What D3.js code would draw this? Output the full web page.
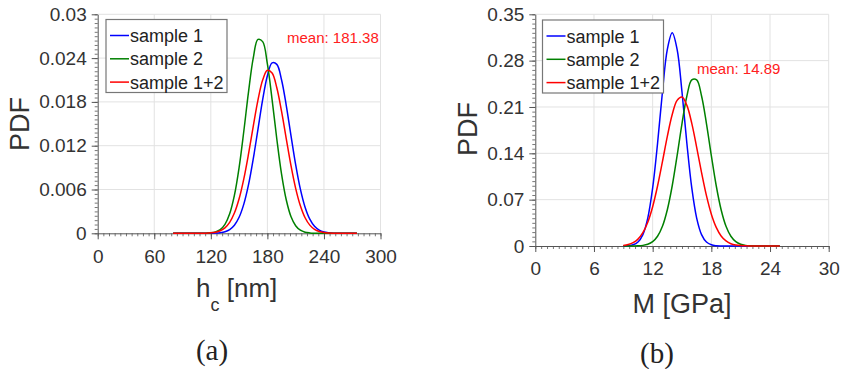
<!DOCTYPE html>
<html>
<head>
<meta charset="utf-8">
<script src="https://cdn.jsdelivr.net/npm/d3@7"></script>
<style>
  body { margin: 0; background: #fff; }
  svg { display: block; font-family: "Liberation Sans", Arial, sans-serif; }
</style>
</head>
<body>
<div id="chart"></div>
<script>
// panel (a): contact depth h_c [nm]
const hcX = [80, 85, 90, 95, 100, 105, 110, 115, 120, 125, 130, 135, 140, 145, 150, 155, 160, 165, 170, 175,
             180, 185, 190, 195, 200, 205, 210, 215, 220, 225, 230, 235, 240, 245, 250, 255, 260, 265, 270, 275];
const hcSample1 = [0, 0, 0, 0, 0, 0, 0, 0, 0.00001, 0.00003, 0.00009, 0.00022, 0.00051, 0.00111, 0.00220, 0.00400, 0.00666, 0.01018, 0.01425, 0.01832,
                   0.02159, 0.02334, 0.02314, 0.02104, 0.01754, 0.01342, 0.00941, 0.00605, 0.00357, 0.00193, 0.00096, 0.00044, 0.00018, 0.00007, 0.00002, 0.00001, 0, 0, 0, 0];
const hcSample2 = [0, 0, 0, 0, 0, 0, 0, 0.00002, 0.00006, 0.00019, 0.00050, 0.00123, 0.00267, 0.00519, 0.00901, 0.01398, 0.01938, 0.02400, 0.02656, 0.02626,
                   0.02320, 0.01832, 0.01292, 0.00814, 0.00459, 0.00230, 0.00104, 0.00042, 0.00015, 0.00005, 0.00001, 0, 0, 0, 0, 0, 0, 0, 0, 0];
const hcSample12 = [0, 0, 0, 0, 0, 0, 0.00001, 0.00002, 0.00006, 0.00015, 0.00035, 0.00075, 0.00150, 0.00277, 0.00473, 0.00746, 0.01087, 0.01465, 0.01824, 0.02100,
                    0.02233, 0.02195, 0.01993, 0.01673, 0.01298, 0.00930, 0.00616, 0.00377, 0.00213, 0.00112, 0.00054, 0.00024, 0.00010, 0.00004, 0.00001, 0, 0, 0, 0, 0];
const hcXTicks = [0, 60, 120, 180, 240, 300];
const hcYTicks = [0, 0.006, 0.012, 0.018, 0.024, 0.03];
const hcYLabels = ["0", "0.006", "0.012", "0.018", "0.024", "0.03"];
const hcMean = "mean: 181.38";

// panel (b): modulus M [GPa]
const mX = [9, 9.5, 10, 10.5, 11, 11.5, 12, 12.5, 13, 13.5, 14, 14.5, 15, 15.5, 16, 16.5, 17,
            17.5, 18, 18.5, 19, 19.5, 20, 20.5, 21, 21.5, 22, 22.5, 23, 23.5, 24, 24.5, 25];
const mSample1 = [0.0001, 0.00044, 0.00177, 0.0060, 0.01725, 0.0422, 0.0877, 0.1549, 0.2326, 0.2969, 0.3220, 0.2969, 0.2326, 0.1549, 0.0877, 0.0422, 0.01725,
                  0.0060, 0.00177, 0.00044, 0.0001, 0, 0, 0, 0, 0, 0, 0, 0, 0, 0, 0, 0];
const mSample2 = [0, 0, 0.0001, 0.00031, 0.00095, 0.00262, 0.0065, 0.01466, 0.0298, 0.0548, 0.0910, 0.1365, 0.1850, 0.2266, 0.2508, 0.2508, 0.2266,
                  0.1850, 0.1365, 0.0910, 0.0548, 0.0298, 0.01466, 0.0065, 0.00262, 0.00095, 0.00031, 0.0001, 0, 0, 0, 0, 0];
const mSample12 = [0.00089, 0.00218, 0.00496, 0.0104, 0.0201, 0.0360, 0.0594, 0.0906, 0.1274, 0.1656, 0.1986, 0.2200, 0.2250, 0.2124, 0.1852, 0.1490, 0.1108,
                   0.0760, 0.0481, 0.0282, 0.0152, 0.0076, 0.0035, 0.0015, 0.00058, 0.00021, 0.00007, 0.00002, 0, 0, 0, 0, 0];
const mXTicks = [0, 6, 12, 18, 24, 30];
const mYTicks = [0, 0.07, 0.14, 0.21, 0.28, 0.35];
const mYLabels = ["0", "0.07", "0.14", "0.21", "0.28", "0.35"];
const mMean = "mean: 14.89";

const seriesNames = ["sample 1", "sample 2", "sample 1+2"];
const seriesColors = ["#0000ff", "#008000", "#ff0000"];

const svg = d3.select("#chart").append("svg")
    .attr("width", 844)
    .attr("height", 369);

function drawPanel(p) {
    const x = d3.scaleLinear().domain([p.xTicks[0], p.xTicks[p.xTicks.length - 1]]).range([p.left, p.right]);
    const y = d3.scaleLinear().domain([p.yTicks[0], p.yTicks[p.yTicks.length - 1]]).range([p.bottom, p.top]);
    const g = svg.append("g");

    // grid
    g.append("g").selectAll("line").data(p.yTicks.slice(1)).join("line")
        .attr("x1", p.left).attr("x2", p.right)
        .attr("y1", d => y(d)).attr("y2", d => y(d))
        .attr("stroke", "#e2e2e2").attr("stroke-width", 1);
    g.append("g").selectAll("line").data(p.xTicks.slice(1)).join("line")
        .attr("x1", d => x(d)).attr("x2", d => x(d))
        .attr("y1", p.top).attr("y2", p.bottom)
        .attr("stroke", "#e2e2e2").attr("stroke-width", 1);

    // minor ticks
    const xMinor = d3.range(0, 51).map(i => x.domain()[0] + i * (x.domain()[1] - x.domain()[0]) / 50);
    const yMinor = d3.range(0, 51).map(i => i * y.domain()[1] / 50);
    g.append("g").attr("transform", `translate(0,${p.bottom})`)
        .call(d3.axisBottom(x).tickValues(xMinor).tickSize(3).tickSizeOuter(0).tickFormat(""))
        .call(a => a.select(".domain").remove())
        .call(a => a.selectAll("line").attr("stroke", "#777"));
    g.append("g").attr("transform", `translate(${p.left},0)`)
        .call(d3.axisLeft(y).tickValues(yMinor).tickSize(3).tickSizeOuter(0).tickFormat(""))
        .call(a => a.select(".domain").remove())
        .call(a => a.selectAll("line").attr("stroke", "#777"));

    // major axes
    g.append("g").attr("transform", `translate(0,${p.bottom})`)
        .call(d3.axisBottom(x).tickValues(p.xTicks).tickSize(6).tickSizeOuter(0).tickPadding(10))
        .call(a => a.select(".domain").attr("stroke", "#555"))
        .call(a => a.selectAll("line").attr("stroke", "#555"))
        .call(a => a.selectAll("text").attr("font-size", 19).attr("fill", "#333")
            .attr("font-family", "'Liberation Sans', Arial, sans-serif"));
    g.append("g").attr("transform", `translate(${p.left},0)`)
        .call(d3.axisLeft(y).tickValues(p.yTicks).tickSize(6).tickSizeOuter(0).tickPadding(5)
            .tickFormat((d, i) => p.yLabels[i]))
        .call(a => a.select(".domain").attr("stroke", "#555"))
        .call(a => a.selectAll("line").attr("stroke", "#555"))
        .call(a => a.selectAll("text").attr("font-size", 19).attr("fill", "#333")
            .attr("font-family", "'Liberation Sans', Arial, sans-serif"));

    // curves
    const line = d3.line().x(d => x(d[0])).y(d => y(d[1])).curve(d3.curveCatmullRom.alpha(0.5));
    p.series.forEach((s, i) => {
        g.append("path")
            .datum(p.xs.map((v, j) => [v, s[j]]))
            .attr("fill", "none")
            .attr("stroke", seriesColors[i])
            .attr("stroke-width", 1.5)
            .attr("d", line);
    });

    // mean label
    g.append("text")
        .attr("x", p.meanX).attr("y", p.meanY)
        .attr("text-anchor", "start")
        .attr("font-size", 15)
        .attr("fill", "#ff2020")
        .text(p.mean);

    // legend
    const lg = g.append("g").attr("transform", `translate(${p.legX},${p.legY})`);
    lg.append("rect")
        .attr("width", 121).attr("height", 73)
        .attr("fill", "#fff").attr("stroke", "#777").attr("stroke-width", 1.2);
    seriesNames.forEach((name, i) => {
        const cy = 16 + i * 23.3;
        lg.append("line")
            .attr("x1", 4).attr("x2", 23).attr("y1", cy).attr("y2", cy)
            .attr("stroke", seriesColors[i]).attr("stroke-width", 1.5);
        lg.append("text")
            .attr("x", 24).attr("y", cy + 6.5)
            .attr("font-size", 18).attr("fill", "#222")
            .text(name);
    });

    // y title
    svg.append("text")
        .attr("transform", `translate(${p.yTitleX},${p.yTitleY}) rotate(-90)`)
        .attr("text-anchor", "middle")
        .attr("font-size", 27).attr("fill", "#333")
        .text("PDF");
}

drawPanel({
    left: 97.7, right: 380.5, top: 14.3, bottom: 233.3,
    xs: hcX, series: [hcSample1, hcSample2, hcSample12],
    xTicks: hcXTicks, yTicks: hcYTicks, yLabels: hcYLabels,
    mean: hcMean, meanX: 287, meanY: 43,
    legX: 106, legY: 19.5,
    yTitleX: 29, yTitleY: 124
});

drawPanel({
    left: 535.3, right: 828.7, top: 14.3, bottom: 246,
    xs: mX, series: [mSample1, mSample2, mSample12],
    xTicks: mXTicks, yTicks: mYTicks, yLabels: mYLabels,
    mean: mMean, meanX: 697, meanY: 74,
    legX: 542.5, legY: 20,
    yTitleX: 477, yTitleY: 129
});

// x titles
const hTitle = svg.append("text")
    .attr("x", 196).attr("y", 297)
    .attr("font-size", 26).attr("fill", "#333");
hTitle.append("tspan").text("h");
hTitle.append("tspan").attr("font-size", 18).attr("dy", 14).text("c");
hTitle.append("tspan").attr("dy", -14).text(" [nm]");

svg.append("text")
    .attr("x", 682).attr("y", 313)
    .attr("text-anchor", "middle")
    .attr("font-size", 27).attr("fill", "#333")
    .text("M [GPa]");

// subfigure captions
svg.append("text")
    .attr("x", 212).attr("y", 360)
    .attr("text-anchor", "middle")
    .attr("font-family", "'Liberation Serif', 'DejaVu Serif', serif")
    .attr("font-size", 29).attr("fill", "#222")
    .text("(a)");
svg.append("text")
    .attr("x", 657).attr("y", 363)
    .attr("text-anchor", "middle")
    .attr("font-family", "'Liberation Serif', 'DejaVu Serif', serif")
    .attr("font-size", 29).attr("fill", "#222")
    .text("(b)");
</script>
</body>
</html>
